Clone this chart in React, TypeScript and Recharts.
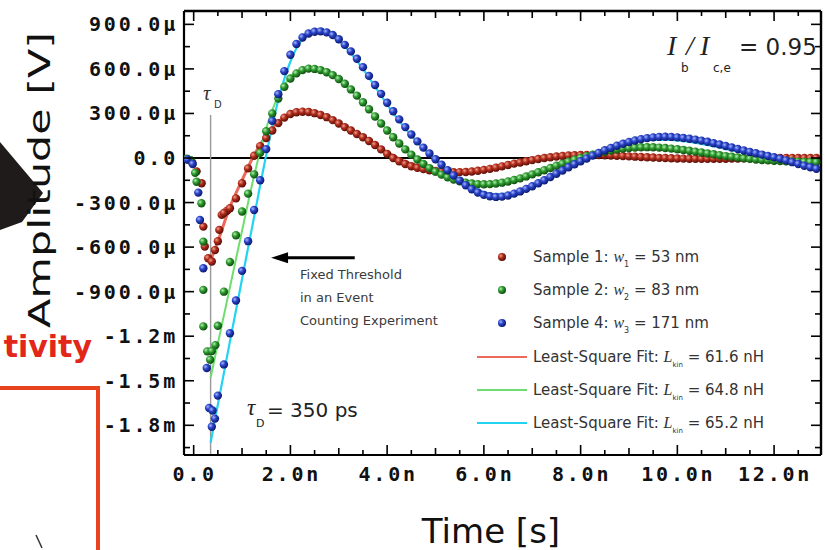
import React from 'react';
import { ComposedChart, XAxis, YAxis, Scatter, Line, ReferenceLine } from 'recharts';

// time in ns, amplitude in µV

const X_TICKS = [0, 0.5, 1, 1.5, 2, 2.5, 3, 3.5, 4, 4.5, 5, 5.5, 6, 6.5, 7, 7.5, 8, 8.5, 9, 9.5, 10, 10.5, 11, 11.5, 12, 12.5];
const Y_TICKS = [-1950, -1800, -1650, -1500, -1350, -1200, -1050, -900, -750, -600, -450, -300, -150, 0, 150, 300, 450, 600, 750, 900];

// sampled points, shared time grid after the dip
const T_MAIN = [
  0.375, 0.5, 0.625, 0.75, 0.875,
  1, 1.125, 1.25, 1.375, 1.5, 1.625, 1.75, 1.875,
  2, 2.125, 2.25, 2.375, 2.5, 2.625, 2.75, 2.875,
  3, 3.125, 3.25, 3.375, 3.5, 3.625, 3.75, 3.875,
  4, 4.125, 4.25, 4.375, 4.5, 4.625, 4.75, 4.875,
  5, 5.125, 5.25, 5.375, 5.5, 5.625, 5.75, 5.875,
  6, 6.125, 6.25, 6.375, 6.5, 6.625, 6.75, 6.875,
  7, 7.125, 7.25, 7.375, 7.5, 7.625, 7.75, 7.875,
  8, 8.125, 8.25, 8.375, 8.5, 8.625, 8.75, 8.875,
  9, 9.125, 9.25, 9.375, 9.5, 9.625, 9.75, 9.875,
  10, 10.125, 10.25, 10.375, 10.5, 10.625, 10.75, 10.875,
  11, 11.125, 11.25, 11.375, 11.5, 11.625, 11.75, 11.875,
  12, 12.125, 12.25, 12.375, 12.5, 12.625, 12.75, 12.875,
];

const S1_MAIN = [
  -697, -560, -370, -338, -272,
  -170, -70, 15, 80, 135, 185, 235, 272,
  296, 308, 312, 310, 302, 290, 275, 255,
  232, 208, 185, 162, 140, 115, 88, 58,
  28, 0, -22, -40, -55, -66, -75, -82,
  -87, -91, -94, -95, -95, -94, -91, -86,
  -80, -73, -65, -56, -47, -38, -30, -22,
  -14, -7, 0, 5, 10, 14, 17, 19,
  20, 21, 21, 20, 19, 17, 15, 13,
  11, 9, 7, 5, 3, 1, 0, -2,
  -3, -4, -5, -5, -6, -6, -6, -5,
  -5, -4, -3, -2, -1, 0, 0, 1,
  1, 1, 1, 1, 0, 0, 0, 0,
];

const S2_MAIN = [
  -1300, -1130, -900, -700, -520,
  -360, -240, -110, 35, 180, 300, 400, 480,
  535, 570, 592, 602, 600, 592, 578, 558,
  532, 500, 462, 420, 375, 328, 280, 232,
  185, 140, 98, 58, 22, -10, -40, -68,
  -92, -112, -130, -145, -157, -166, -172, -176,
  -177, -176, -172, -166, -158, -148, -137, -124,
  -110, -96, -82, -67, -52, -38, -25, -12,
  0, 12, 23, 33, 42, 50, 57, 63,
  67, 70, 72, 73, 72, 70, 67, 63,
  59, 54, 49, 43, 37, 31, 25, 19,
  13, 8, 3, -2, -6, -10, -13, -16,
  -18, -20, -22, -24, -25, -26, -27, -28,
];

const S4_MAIN = [
  -1810, -1600, -1390, -1180, -960,
  -760, -560, -350, -150, 60, 250, 430, 585,
  695, 768, 812, 838, 850, 853, 846, 828,
  800, 762, 718, 668, 612, 553, 492, 432,
  372, 315, 260, 208, 158, 112, 70, 30,
  -8, -45, -82, -118, -152, -183, -210, -232,
  -248, -258, -262, -260, -252, -240, -225, -208,
  -190, -170, -150, -128, -106, -84, -62, -42,
  -22, -3, 16, 34, 52, 68, 83, 96,
  108, 118, 127, 134, 139, 142, 143, 142,
  139, 135, 130, 124, 117, 109, 100, 91,
  81, 71, 61, 51, 41, 32, 23, 14,
  5, -5, -16, -28, -40, -52, -62, -72,
];

// falling edge before tau_D, scattered
const T1_EARLY = [-0.125, -0.03, 0.06, 0.165, 0.2, 0.23, 0.3, 0.44, 0.53, 0.58, 0.69];
const S1_EARLY = [-8, -30, -90, -170, -462, -596, -675, -620, -484, -383, -355];
const T2_EARLY = [-0.14, -0.06, 0.03, 0.06, 0.16, 0.2, 0.2, 0.2, 0.28, 0.34, 0.45];
const S2_EARLY = [-5, -15, -100, -160, -305, -563, -888, -1134, -1302, -1358, -1260];
const T4_EARLY = [-0.13, -0.02, 0.095, 0.13, 0.2, 0.27, 0.32, 0.39, 0.44];
const S4_EARLY = [-10, -40, -233, -417, -742, -1414, -1683, -1700, -1755];

// least-square fits
const FIT_T = [
  0.35, 0.5, 0.75,
  1, 1.25, 1.5, 1.75,
  2, 2.25, 2.5, 2.75,
  3, 3.25, 3.5, 3.75,
  4, 4.25, 4.5, 4.75,
  5, 5.25, 5.5, 5.75,
  6, 6.25, 6.5, 6.75,
  7, 7.25, 7.5, 7.75,
  8, 8.25, 8.5, 8.75,
  9, 9.25, 9.5, 9.75,
  10, 10.25, 10.5, 10.75,
  11, 11.25, 11.5, 11.75,
  12, 12.25, 12.5, 12.75, 12.9,
];
const F1 = [
  -690, -560, -330,
  -150, 20, 150, 245,
  295, 310, 300, 272,
  232, 185, 135, 85,
  38, -5, -40, -66,
  -82, -90, -90, -84,
  -74, -60, -45, -30,
  -16, -4, 6, 13,
  17, 18, 17, 14,
  10, 6, 2, -1,
  -3, -5, -5, -5,
  -4, -3, -2, -1,
  0, 0, 0, 0, 0,
];
const F2 = [
  -1480, -1250, -870,
  -490, -120, 200, 420,
  545, 595, 600, 575,
  525, 455, 370, 280,
  190, 105, 30, -35,
  -88, -128, -155, -168,
  -170, -162, -146, -125,
  -100, -73, -46, -21,
  2, 22, 38, 50,
  58, 62, 62, 59,
  53, 45, 36, 27,
  18, 9, 1, -6,
  -11, -15, -18, -20, -21,
];
const F4 = [
  -1917, -1660, -1235,
  -815, -395, 20, 390,
  650, 800, 845, 840,
  790, 705, 600, 480,
  360, 250, 150, 62,
  -15, -85, -145, -195,
  -230, -245, -240, -220,
  -185, -145, -100, -58,
  -18, 18, 50, 78,
  100, 115, 122, 123,
  118, 108, 95, 80,
  62, 45, 28, 12,
  -2, -14, -24, -32, -36,
];

const W = 825;
const H = 550;
const PLOT = { left: 184, right: 821, top: 11, bottom: 455 };
const X_DOMAIN = [-0.2, 12.97];
const Y_DOMAIN = [-2000, 990];

const mk = (ts: number[], vs: number[]) => ts.map((t, i) => ({ t, v: vs[i] }));
const S1_DATA = [...mk(T1_EARLY, S1_EARLY), ...mk(T_MAIN, S1_MAIN)];
const S2_DATA = [...mk(T2_EARLY, S2_EARLY), ...mk(T_MAIN, S2_MAIN)];
const S4_DATA = [...mk(T4_EARLY, S4_EARLY), ...mk(T_MAIN, S4_MAIN)];

const SERIES = [
  { grad: 'gRed', fit: '#ec6a5c', fitW: 3, data: S1_DATA, fitData: mk(FIT_T, F1), label: 'Sample 1:  ', sub: '1', w: ' =  53 nm', L: ' = 61.6 nH' },
  { grad: 'gGreen', fit: '#6ede6e', fitW: 2, data: S2_DATA, fitData: mk(FIT_T, F2), label: 'Sample 2: ', sub: '2', w: ' =  83 nm', L: ' = 64.8 nH' },
  { grad: 'gBlue', fit: '#22d4f2', fitW: 2.2, data: S4_DATA, fitData: mk(FIT_T, F4), label: 'Sample 4: ', sub: '3', w: ' = 171 nm', L: ' = 65.2 nH' },
];

const TICK_FONT = { fontFamily: 'DejaVu Sans Mono', fontWeight: 700, fontSize: 20, letterSpacing: 2.8, fill: '#111' };

const fmtX = (v: number) => (v === 0 ? '0.0' : `${v.toFixed(1)}n`);
const fmtY = (v: number) => {
  if (v === 0) return '0.0';
  if (Math.abs(v) >= 1000) return `${(v / 1000).toFixed(1)}m`;
  return `${v.toFixed(1)}µ`;
};

const xLen = (v: number) => (v % 2 === 0 ? 10 : v % 1 === 0 ? 7 : 5);
const yLen = (v: number) => (v % 300 === 0 ? 10 : 6);

const XBottomTick = (p: any) => {
  const v = p.payload.value;
  return (
    <g>
      <line x1={p.x} x2={p.x} y1={PLOT.bottom} y2={PLOT.bottom - xLen(v)} stroke="#000" strokeWidth={1.6} />
      <line x1={p.x} x2={p.x} y1={PLOT.top} y2={PLOT.top + xLen(v)} stroke="#000" strokeWidth={1.6} />
      {v % 2 === 0 && (
        <text x={p.x + 1} y={481} textAnchor="middle" {...TICK_FONT}>{fmtX(v)}</text>
      )}
    </g>
  );
};
const YLeftTick = (p: any) => {
  const v = p.payload.value;
  return (
    <g>
      <line x1={PLOT.left} x2={PLOT.left + yLen(v)} y1={p.y} y2={p.y} stroke="#000" strokeWidth={1.6} />
      <line x1={PLOT.right} x2={PLOT.right - yLen(v)} y1={p.y} y2={p.y} stroke="#000" strokeWidth={1.6} />
      {v % 300 === 0 && (
        <text x={178} y={p.y + 7} textAnchor="end" {...TICK_FONT}>{fmtY(v)}</text>
      )}
    </g>
  );
};

const dotShape = (grad: string) => (p: any) => <circle cx={p.cx} cy={p.cy} r={4.2} fill={`url(#${grad})`} />;

const Arrow = (p: any) => (
  <g>
    <line x1={p.x1} y1={p.y1} x2={p.x2 + 12} y2={p.y2} stroke="#000" strokeWidth={3} />
    <polygon points={`${p.x2},${p.y2} ${p.x2 + 17},${p.y2 - 5.5} ${p.x2 + 17},${p.y2 + 5.5}`} fill="#000" />
  </g>
);

const axisLine = { stroke: '#000', strokeWidth: 2.2 };
const LEGEND_Y = [257, 290, 323, 357, 390, 423];

export default function App() {
  return (
    <div style={{ position: 'absolute', left: 0, top: 0, width: W, height: H, background: '#fff', overflow: 'hidden' }}>
      <ComposedChart width={W} height={H} margin={{ top: 11, right: 4, bottom: 65, left: 124 }}>
        <XAxis dataKey="t" type="number" domain={X_DOMAIN} ticks={X_TICKS} interval={0} allowDataOverflow height={30} axisLine={axisLine} tickLine={false} tick={XBottomTick} />
        <YAxis type="number" domain={Y_DOMAIN} ticks={Y_TICKS} interval={0} allowDataOverflow width={60} axisLine={axisLine} tickLine={false} tick={YLeftTick} />
        {/* frame: top and right edges */}
        <ReferenceLine y={Y_DOMAIN[1]} stroke="#000" strokeWidth={2.4} />
        <ReferenceLine x={X_DOMAIN[1]} stroke="#000" strokeWidth={2.4} />
        <ReferenceLine y={0} stroke="#000" strokeWidth={2} />
        <ReferenceLine segment={[{ x: 0.35, y: -2000 }, { x: 0.35, y: 290 }]} stroke="#999" strokeWidth={1.4} />
        <ReferenceLine segment={[{ x: 3.33, y: -672 }, { x: 1.6, y: -672 }]} shape={Arrow} />
        {SERIES.map((s) => [
          <Scatter key={s.grad + 'd'} data={s.data} dataKey="v" shape={dotShape(s.grad)} isAnimationActive={false} />,
          <Line key={s.grad + 'f'} data={s.fitData} dataKey="v" type="monotone" stroke={s.fit} strokeWidth={s.fitW} dot={false} activeDot={false} isAnimationActive={false} />,
        ])}
      </ComposedChart>

      <svg width={W} height={H} style={{ position: 'absolute', left: 0, top: 0 }} fontFamily="DejaVu Sans">
        <defs>
          <radialGradient id="gRed" cx="35%" cy="35%" r="65%">
            <stop offset="0%" stopColor="#f2a08e" />
            <stop offset="45%" stopColor="#b22c1c" />
            <stop offset="100%" stopColor="#5c1008" />
          </radialGradient>
          <radialGradient id="gGreen" cx="35%" cy="35%" r="65%">
            <stop offset="0%" stopColor="#b4f0b4" />
            <stop offset="45%" stopColor="#2f9a2f" />
            <stop offset="100%" stopColor="#0f4f10" />
          </radialGradient>
          <radialGradient id="gBlue" cx="35%" cy="35%" r="65%">
            <stop offset="0%" stopColor="#a8b6ff" />
            <stop offset="45%" stopColor="#2a44c8" />
            <stop offset="100%" stopColor="#0c1a70" />
          </radialGradient>
        </defs>

        {/* slide leftovers */}
        <polygon points="0,142 43,193 22,222 0,230" fill="#1e1b1a" />
        <text x={92} y={357} textAnchor="end" fontSize={30} fontWeight={700} fill="#e3261a">tivity</text>
        <path d="M0,388 H98 V550" fill="none" stroke="#e8421e" strokeWidth={4} />
        <line x1={36} y1={535} x2={42} y2={548} stroke="#333" strokeWidth={1.5} />

        {/* axis titles */}
        <text x={50} y={180} transform="rotate(-90 50 180)" textAnchor="middle" fontSize={30} textLength={296} lengthAdjust="spacingAndGlyphs" fill="#111">Amplitude [V]</text>
        <text x={491} y={543} textAnchor="middle" fontSize={34} fill="#111">Time [s]</text>

        {/* I_b / I_c,e */}
        <g fill="#222">
          <text x={667} y={55} fontFamily="Liberation Serif" fontStyle="italic" fontSize={28}>I</text>
          <text x={686} y={55} fontFamily="Liberation Serif" fontStyle="italic" fontSize={28}>/</text>
          <text x={700} y={55} fontFamily="Liberation Serif" fontStyle="italic" fontSize={28}>I</text>
          <text x={681} y={72} fontSize={12}>b</text>
          <text x={713} y={72} fontSize={12}>c,e</text>
          <text x={739} y={55} fontSize={23}>= 0.95</text>
        </g>

        {/* tau_D marks */}
        <text x={203} y={100} fontFamily="Liberation Serif" fontStyle="italic" fontSize={21} fill="#333">τ</text>
        <text x={214} y={108} fontSize={10} fill="#333">D</text>
        <text x={247} y={415} fontFamily="Liberation Serif" fontStyle="italic" fontSize={23} fill="#222">τ</text>
        <text x={256} y={427} fontSize={11} fill="#222">D</text>
        <text x={267} y={417} fontSize={20} fill="#222">= 350 ps</text>

        <g fontSize={13} fill="#3a3a3a">
          <text x={300} y={279}>Fixed Threshold</text>
          <text x={300} y={302}>in an Event</text>
          <text x={300} y={325}>Counting Experiment</text>
        </g>

        {/* legend */}
        <g fontSize={15} fill="#333" style={{ whiteSpace: 'pre' }}>
          {SERIES.map((s, i) => (
            <g key={'ld' + i}>
              <circle cx={502} cy={LEGEND_Y[i]} r={4} fill={`url(#${s.grad})`} />
              <text x={533} y={LEGEND_Y[i] + 5}>
                {s.label}
                <tspan fontFamily="Liberation Serif" fontStyle="italic" fontSize={16}>w</tspan>
                <tspan fontSize={8} dy={5}>{s.sub}</tspan>
                <tspan dy={-5}>{s.w}</tspan>
              </text>
            </g>
          ))}
          {SERIES.map((s, i) => (
            <g key={'lf' + i}>
              <line x1={477} x2={527} y1={LEGEND_Y[i + 3]} y2={LEGEND_Y[i + 3]} stroke={s.fit} strokeWidth={2} />
              <text x={533} y={LEGEND_Y[i + 3] + 5}>
                {'Least-Square Fit: '}
                <tspan fontFamily="Liberation Serif" fontStyle="italic" fontSize={16}>L</tspan>
                <tspan fontSize={7} dy={5}>kin</tspan>
                <tspan dy={-5}>{s.L}</tspan>
              </text>
            </g>
          ))}
        </g>
      </svg>
    </div>
  );
}
